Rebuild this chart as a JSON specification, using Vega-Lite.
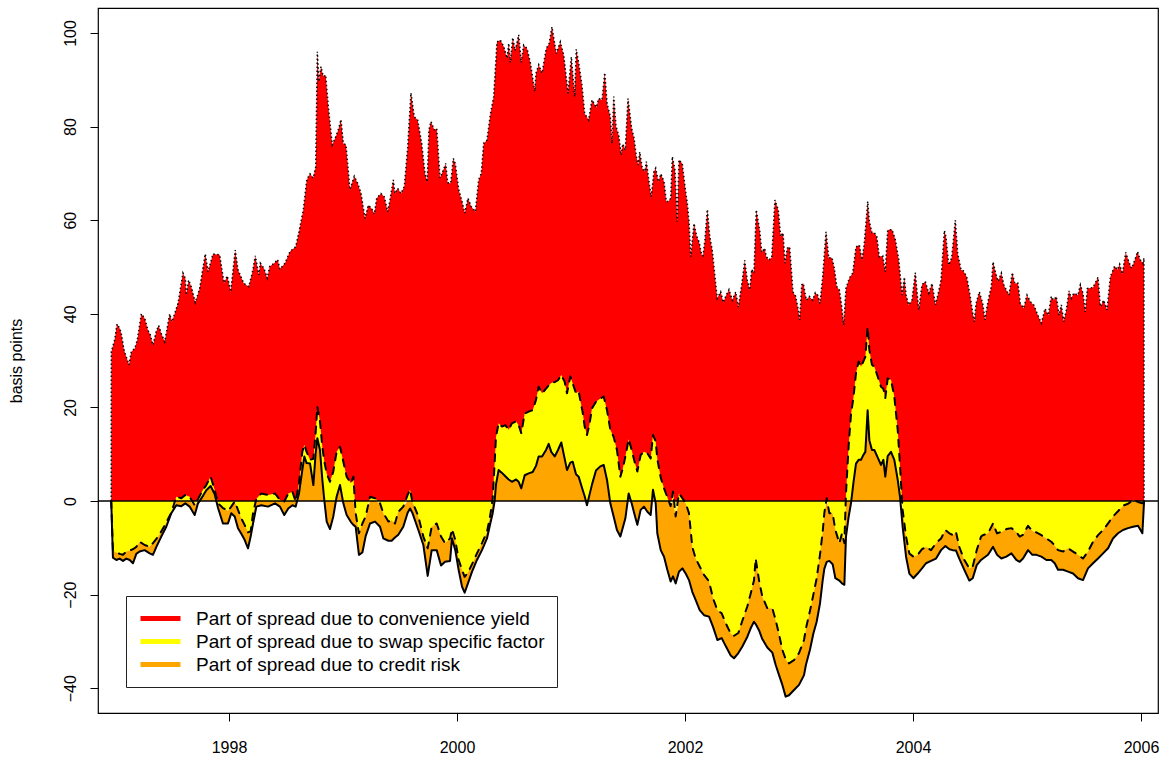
{
"$schema": "https://vega.github.io/schema/vega-lite/v6.json",
"width": 1060, "height": 705,
"autosize": {"type": "none"},
"padding": {"left": 98, "top": 8, "right": 11, "bottom": 52},
"background": "white",
"config": {
 "view": {"stroke": "black", "strokeWidth": 1.2},
 "axis": {"labelFont": "Liberation Sans", "labelFontSize": 16, "labelColor": "black", "titleFont": "Liberation Sans", "titleFontSize": 16, "titleFontWeight": "normal", "titleColor": "black", "domain": false, "grid": false, "tickColor": "black", "tickSize": 8, "labelFlush": false, "labelOverlap": false}
},
"datasets": {
"top": [
{"x":1996.967,"v":0},{"x":1996.968,"v":31.9},{"x":1996.997,"v":34.4},{"x":1997.018,"v":37.8},{"x":1997.041,"v":36.9},{"x":1997.055,"v":35.8},{"x":1997.079,"v":32.3},{"x":1997.099,"v":30.8},{"x":1997.123,"v":29.1},{"x":1997.143,"v":31.9},{"x":1997.173,"v":32.6},{"x":1997.196,"v":34.4},{"x":1997.231,"v":40.0},{"x":1997.261,"v":39.0},{"x":1997.289,"v":36.5},{"x":1997.310,"v":35.5},{"x":1997.333,"v":33.3},{"x":1997.362,"v":36.2},{"x":1997.383,"v":37.5},{"x":1997.406,"v":35.8},{"x":1997.436,"v":34.0},{"x":1997.480,"v":40.0},{"x":1997.500,"v":38.3},{"x":1997.553,"v":42.2},{"x":1997.596,"v":48.7},{"x":1997.617,"v":47.6},{"x":1997.625,"v":44.0},{"x":1997.646,"v":47.2},{"x":1997.669,"v":45.8},{"x":1997.704,"v":42.4},{"x":1997.743,"v":45.4},{"x":1997.792,"v":52.8},{"x":1997.816,"v":49.0},{"x":1997.860,"v":52.8},{"x":1997.918,"v":52.6},{"x":1997.956,"v":46.6},{"x":1997.985,"v":48.1},{"x":1998.015,"v":44.7},{"x":1998.055,"v":53.6},{"x":1998.079,"v":49.4},{"x":1998.129,"v":46.5},{"x":1998.173,"v":45.8},{"x":1998.204,"v":48.7},{"x":1998.231,"v":52.4},{"x":1998.261,"v":48.3},{"x":1998.275,"v":50.8},{"x":1998.307,"v":49.7},{"x":1998.336,"v":47.6},{"x":1998.357,"v":50.1},{"x":1998.401,"v":50.9},
{"x":1998.427,"v":51.6},{"x":1998.447,"v":49.5},{"x":1998.491,"v":50.8},{"x":1998.535,"v":53.3},{"x":1998.585,"v":54.3},{"x":1998.614,"v":57.5},{"x":1998.652,"v":62.2},{"x":1998.682,"v":68.6},{"x":1998.711,"v":69.9},{"x":1998.739,"v":69.0},{"x":1998.761,"v":71.4},{"x":1998.775,"v":96.0},{"x":1998.789,"v":89.6},{"x":1998.807,"v":92.8},{"x":1998.827,"v":90.7},{"x":1998.848,"v":91.0},{"x":1998.871,"v":84.3},{"x":1998.906,"v":76.1},{"x":1998.936,"v":77.8},{"x":1998.959,"v":79.3},{"x":1998.982,"v":81.5},{"x":1999.003,"v":76.4},{"x":1999.026,"v":76.1},{"x":1999.061,"v":66.5},{"x":1999.099,"v":69.4},{"x":1999.129,"v":67.9},{"x":1999.158,"v":65.7},{"x":1999.193,"v":60.4},{"x":1999.222,"v":63.2},{"x":1999.252,"v":62.5},{"x":1999.275,"v":61.3},{"x":1999.296,"v":64.7},{"x":1999.333,"v":65.7},{"x":1999.362,"v":65.0},{"x":1999.392,"v":61.8},{"x":1999.412,"v":64.3},{"x":1999.441,"v":68.6},{"x":1999.456,"v":65.7},{"x":1999.480,"v":66.8},{"x":1999.509,"v":65.7},{"x":1999.538,"v":67.2},{"x":1999.568,"v":75.7},{"x":1999.596,"v":87.2},{"x":1999.625,"v":82.1},{"x":1999.655,"v":81.4},{"x":1999.690,"v":76.4},{"x":1999.719,"v":70.0},{"x":1999.739,"v":68.2},{"x":1999.754,"v":79.3},{"x":1999.772,"v":81.1},{"x":1999.801,"v":79.3},{"x":1999.822,"v":79.6},{"x":1999.851,"v":69.0},{"x":1999.880,"v":70.7},{"x":1999.901,"v":72.1},{"x":1999.918,"v":68.0},{"x":1999.945,"v":67.9},{"x":1999.968,"v":73.2},
{"x":1999.985,"v":72.1},{"x":2000.015,"v":66.5},{"x":2000.044,"v":64.0},{"x":2000.068,"v":61.5},{"x":2000.096,"v":64.7},{"x":2000.125,"v":62.9},{"x":2000.161,"v":61.8},{"x":2000.190,"v":68.6},{"x":2000.213,"v":70.0},{"x":2000.234,"v":76.4},{"x":2000.263,"v":77.1},{"x":2000.292,"v":82.5},{"x":2000.322,"v":86.4},{"x":2000.351,"v":98.1},{"x":2000.380,"v":98.5},{"x":2000.410,"v":97.1},{"x":2000.439,"v":94.6},{"x":2000.454,"v":97.8},{"x":2000.468,"v":93.7},{"x":2000.489,"v":99.0},{"x":2000.511,"v":96.2},{"x":2000.541,"v":99.6},{"x":2000.564,"v":93.7},{"x":2000.585,"v":97.4},{"x":2000.614,"v":96.7},{"x":2000.643,"v":93.7},{"x":2000.682,"v":87.5},{"x":2000.693,"v":91.4},{"x":2000.717,"v":93.2},{"x":2000.746,"v":91.4},{"x":2000.783,"v":96.7},{"x":2000.809,"v":97.8},{"x":2000.833,"v":101.3},{"x":2000.871,"v":95.6},{"x":2000.906,"v":98.1},{"x":2000.936,"v":95.3},{"x":2000.974,"v":87.1},{"x":2001.003,"v":94.9},{"x":2001.032,"v":86.4},{"x":2001.046,"v":96.5},{"x":2001.068,"v":93.5},{"x":2001.096,"v":88.9},{"x":2001.120,"v":82.8},{"x":2001.155,"v":81.4},{"x":2001.184,"v":85.7},{"x":2001.222,"v":84.1},{"x":2001.243,"v":86.0},{"x":2001.272,"v":85.7},{"x":2001.296,"v":91.5},{"x":2001.316,"v":85.0},{"x":2001.345,"v":82.1},{"x":2001.360,"v":76.4},{"x":2001.375,"v":86.4},{"x":2001.395,"v":80.0},{"x":2001.418,"v":78.2},{"x":2001.441,"v":73.9},{"x":2001.454,"v":76.3},{"x":2001.476,"v":75.0},{"x":2001.500,"v":86.0},
{"x":2001.532,"v":79.6},{"x":2001.553,"v":77.5},{"x":2001.573,"v":73.6},{"x":2001.590,"v":71.8},{"x":2001.603,"v":74.6},{"x":2001.625,"v":71.1},{"x":2001.649,"v":70.4},{"x":2001.661,"v":72.5},{"x":2001.690,"v":67.2},{"x":2001.704,"v":65.0},{"x":2001.728,"v":70.4},{"x":2001.743,"v":71.1},{"x":2001.766,"v":68.2},{"x":2001.789,"v":69.9},{"x":2001.816,"v":68.2},{"x":2001.836,"v":64.0},{"x":2001.854,"v":64.0},{"x":2001.875,"v":64.7},{"x":2001.889,"v":73.6},{"x":2001.912,"v":70.7},{"x":2001.932,"v":59.7},{"x":2001.947,"v":72.9},{"x":2001.976,"v":72.1},{"x":2002.000,"v":67.2},{"x":2002.020,"v":63.6},{"x":2002.035,"v":59.7},{"x":2002.050,"v":52.2},{"x":2002.079,"v":59.3},{"x":2002.103,"v":56.5},{"x":2002.123,"v":55.4},{"x":2002.146,"v":52.6},{"x":2002.158,"v":52.4},{"x":2002.175,"v":55.8},{"x":2002.196,"v":62.3},{"x":2002.217,"v":56.5},{"x":2002.239,"v":53.6},{"x":2002.263,"v":47.9},{"x":2002.283,"v":43.3},{"x":2002.313,"v":44.7},{"x":2002.336,"v":42.4},{"x":2002.362,"v":44.0},{"x":2002.386,"v":45.2},{"x":2002.415,"v":42.9},{"x":2002.445,"v":44.7},{"x":2002.468,"v":41.4},{"x":2002.503,"v":47.2},{"x":2002.524,"v":51.4},{"x":2002.546,"v":47.2},{"x":2002.568,"v":45.1},{"x":2002.585,"v":49.5},{"x":2002.605,"v":48.7},{"x":2002.625,"v":62.2},{"x":2002.655,"v":57.9},{"x":2002.673,"v":53.1},{"x":2002.699,"v":54.0},{"x":2002.713,"v":52.2},{"x":2002.737,"v":51.5},{"x":2002.761,"v":52.1},{"x":2002.789,"v":64.3},{"x":2002.818,"v":62.2},{"x":2002.839,"v":56.5},{"x":2002.860,"v":57.3},{"x":2002.877,"v":50.8},{"x":2002.897,"v":54.0},{"x":2002.918,"v":54.3},{"x":2002.947,"v":44.7},{"x":2002.971,"v":43.7},{"x":2002.994,"v":40.8},{"x":2003.006,"v":38.7},{"x":2003.024,"v":46.2},{"x":2003.038,"v":46.5},{"x":2003.064,"v":42.9},
{"x":2003.090,"v":43.7},{"x":2003.120,"v":42.9},{"x":2003.143,"v":44.5},{"x":2003.164,"v":44.0},{"x":2003.184,"v":42.2},{"x":2003.208,"v":47.9},{"x":2003.237,"v":57.5},{"x":2003.261,"v":51.9},{"x":2003.289,"v":52.0},{"x":2003.310,"v":49.7},{"x":2003.331,"v":45.8},{"x":2003.354,"v":45.1},{"x":2003.375,"v":41.5},{"x":2003.392,"v":37.6},{"x":2003.412,"v":45.4},{"x":2003.441,"v":47.6},{"x":2003.471,"v":48.7},{"x":2003.500,"v":54.3},{"x":2003.529,"v":54.7},{"x":2003.553,"v":51.5},{"x":2003.573,"v":55.1},{"x":2003.603,"v":64.0},{"x":2003.617,"v":59.7},{"x":2003.640,"v":57.3},{"x":2003.661,"v":57.3},{"x":2003.682,"v":56.5},{"x":2003.704,"v":52.2},{"x":2003.734,"v":52.4},{"x":2003.757,"v":49.0},{"x":2003.778,"v":57.9},{"x":2003.816,"v":58.0},{"x":2003.845,"v":55.8},{"x":2003.875,"v":51.5},{"x":2003.904,"v":44.0},{"x":2003.924,"v":47.8},{"x":2003.939,"v":44.0},{"x":2003.962,"v":41.9},{"x":2003.991,"v":42.9},{"x":2004.020,"v":48.8},{"x":2004.050,"v":40.8},{"x":2004.079,"v":46.2},{"x":2004.108,"v":46.9},{"x":2004.138,"v":44.4},{"x":2004.167,"v":46.5},{"x":2004.196,"v":41.9},{"x":2004.225,"v":44.7},{"x":2004.246,"v":47.2},{"x":2004.275,"v":57.8},{"x":2004.289,"v":56.5},{"x":2004.313,"v":50.4},{"x":2004.339,"v":51.9},{"x":2004.371,"v":60.0},{"x":2004.392,"v":52.9},{"x":2004.421,"v":49.4},{"x":2004.441,"v":49.2},{"x":2004.471,"v":47.9},{"x":2004.500,"v":44.0},{"x":2004.524,"v":40.1},{"x":2004.538,"v":38.3},{"x":2004.553,"v":42.2},{"x":2004.582,"v":44.7},{"x":2004.611,"v":42.2},{"x":2004.632,"v":38.7},
{"x":2004.649,"v":41.5},{"x":2004.667,"v":43.7},{"x":2004.687,"v":45.8},{"x":2004.702,"v":51.1},{"x":2004.725,"v":48.7},{"x":2004.746,"v":46.9},{"x":2004.775,"v":48.7},{"x":2004.796,"v":46.2},{"x":2004.818,"v":45.1},{"x":2004.842,"v":44.0},{"x":2004.871,"v":48.8},{"x":2004.892,"v":46.5},{"x":2004.921,"v":46.5},{"x":2004.941,"v":42.2},{"x":2004.971,"v":41.2},{"x":2005.000,"v":44.0},{"x":2005.029,"v":42.6},{"x":2005.059,"v":41.9},{"x":2005.088,"v":40.1},{"x":2005.126,"v":38.0},{"x":2005.158,"v":41.1},{"x":2005.187,"v":39.7},{"x":2005.213,"v":43.7},{"x":2005.234,"v":42.9},{"x":2005.257,"v":43.7},{"x":2005.281,"v":39.7},{"x":2005.301,"v":41.9},{"x":2005.322,"v":38.3},{"x":2005.345,"v":40.8},{"x":2005.368,"v":44.9},{"x":2005.389,"v":43.3},{"x":2005.410,"v":44.4},{"x":2005.447,"v":44.0},{"x":2005.468,"v":46.2},{"x":2005.491,"v":44.4},{"x":2005.511,"v":40.4},{"x":2005.529,"v":45.4},{"x":2005.579,"v":45.6},{"x":2005.623,"v":47.8},{"x":2005.643,"v":41.5},{"x":2005.673,"v":42.9},{"x":2005.702,"v":40.8},{"x":2005.731,"v":47.9},{"x":2005.769,"v":50.2},{"x":2005.792,"v":49.4},{"x":2005.813,"v":50.6},{"x":2005.836,"v":48.5},{"x":2005.866,"v":53.1},{"x":2005.895,"v":51.0},{"x":2005.918,"v":49.7},{"x":2005.947,"v":51.6},{"x":2005.970,"v":53.3},{"x":2005.991,"v":51.6},{"x":2006.015,"v":50.8},{"x":2006.026,"v":51.9},{"x":2006.027,"v":0}
],
"low": [
{"x":1996.967,"s":0,"d":0,"b":0},{"x":1996.982,"s":-12.1,"d":-10.5,"b":-10.5},{"x":1997.012,"s":-12.6,"d":-11.0,"b":-11.0},{"x":1997.041,"s":-12.3,"d":-11.3,"b":-11.3},{"x":1997.070,"s":-12.8,"d":-11.5,"b":-11.5},{"x":1997.099,"s":-12.3,"d":-10.8,"b":-10.8},{"x":1997.129,"s":-12.6,"d":-10.6,"b":-10.6},{"x":1997.158,"s":-13.3,"d":-10.3,"b":-10.3},{"x":1997.187,"s":-11.3,"d":-9.8,"b":-9.8},{"x":1997.216,"s":-10.8,"d":-8.7,"b":-8.7},{"x":1997.260,"s":-10.5,"d":-9.4,"b":-9.4},{"x":1997.304,"s":-11.2,"d":-9.8,"b":-9.8},{"x":1997.333,"s":-11.5,"d":-9.0,"b":-9.0},{"x":1997.363,"s":-9.8,"d":-8.1,"b":-8.1},{"x":1997.406,"s":-7.6,"d":-6.5,"b":-6.5},{"x":1997.450,"s":-5.5,"d":-4.6,"b":-4.6},{"x":1997.494,"s":-2.6,"d":-2.5,"b":-2.5},{"x":1997.538,"s":-0.9,"d":0.9,"b":0},{"x":1997.582,"s":-1.1,"d":0.6,"b":0},{"x":1997.617,"s":-0.5,"d":1.3,"b":0},{"x":1997.655,"s":-1.2,"d":0.9,"b":0},{"x":1997.699,"s":-3.0,"d":-0.9,"b":-0.9},{"x":1997.728,"s":-0.5,"d":0.4,"b":0},{"x":1997.772,"s":1.1,"d":2.4,"b":0},{"x":1997.801,"s":2.3,"d":3.4,"b":0},{"x":1997.839,"s":3.2,"d":5.2,"b":0},{"x":1997.874,"s":1.5,"d":2.4,"b":0},{"x":1997.904,"s":-1.5,"d":-0.5,"b":-0.5},{"x":1997.947,"s":-4.8,"d":-1.5,"b":-1.5},{"x":1997.991,"s":-4.8,"d":-2.1,"b":-2.1},{"x":1998.020,"s":-2.6,"d":-1.2,"b":-1.2},{"x":1998.050,"s":-3.3,"d":-0.1,"b":-0.1},{"x":1998.079,"s":-5.8,"d":-1.9,"b":-1.9},{"x":1998.108,"s":-7.0,"d":-3.7,"b":-3.7},{"x":1998.137,"s":-8.3,"d":-5.1,"b":-5.1},{"x":1998.167,"s":-10.1,"d":-6.7,"b":-6.7},{"x":1998.190,"s":-7.6,"d":-6.5,"b":-6.5},{"x":1998.211,"s":-4.8,"d":-2.6,"b":-2.6},{"x":1998.240,"s":-1.2,"d":0.5,"b":0},{"x":1998.284,"s":-0.9,"d":1.6,"b":0},{"x":1998.342,"s":-1.2,"d":1.3,"b":0},
{"x":1998.404,"s":-0.5,"d":1.6,"b":0},{"x":1998.447,"s":-1.2,"d":0.2,"b":0},{"x":1998.485,"s":-3.0,"d":-0.1,"b":-0.1},{"x":1998.520,"s":-1.6,"d":1.6,"b":0},{"x":1998.556,"s":-0.9,"d":2.0,"b":0},{"x":1998.585,"s":-1.2,"d":-0.1,"b":-0.1},{"x":1998.614,"s":1.6,"d":3.8,"b":0},{"x":1998.643,"s":6.6,"d":10.5,"b":0},{"x":1998.661,"s":9.5,"d":12.0,"b":0},{"x":1998.681,"s":8.1,"d":10.5,"b":0},{"x":1998.711,"s":8.0,"d":8.8,"b":0},{"x":1998.740,"s":3.4,"d":9.0,"b":0},{"x":1998.760,"s":10.2,"d":14.5,"b":0},{"x":1998.775,"s":13.4,"d":20.2,"b":0},{"x":1998.798,"s":10.9,"d":17.0,"b":0},{"x":1998.819,"s":4.5,"d":11.5,"b":0},{"x":1998.836,"s":0.2,"d":8.5,"b":0},{"x":1998.857,"s":-4.4,"d":5.9,"b":0},{"x":1998.886,"s":-6.0,"d":4.1,"b":0},{"x":1998.915,"s":-3.3,"d":6.3,"b":0},{"x":1998.944,"s":0.9,"d":10.5,"b":0},{"x":1998.974,"s":3.4,"d":11.6,"b":0},{"x":1999.003,"s":-0.5,"d":8.4,"b":0},{"x":1999.032,"s":-3.0,"d":5.2,"b":0},{"x":1999.070,"s":-4.5,"d":3.8,"b":0},{"x":1999.091,"s":-5.1,"d":5.2,"b":0},{"x":1999.111,"s":-5.5,"d":-2.6,"b":-2.6},{"x":1999.140,"s":-11.5,"d":-6.9,"b":-6.9},{"x":1999.170,"s":-11.0,"d":-4.8,"b":-4.8},{"x":1999.199,"s":-7.5,"d":-3.3,"b":-3.3},{"x":1999.237,"s":-4.8,"d":0.9,"b":0},{"x":1999.281,"s":-4.4,"d":0.6,"b":0},{"x":1999.325,"s":-5.5,"d":-0.5,"b":-0.5},{"x":1999.354,"s":-8.0,"d":-2.6,"b":-2.6},{"x":1999.398,"s":-8.5,"d":-4.4,"b":-4.4},{"x":1999.427,"s":-8.5,"d":-4.1,"b":-4.1},{"x":1999.456,"s":-7.8,"d":-4.8,"b":-4.8},{"x":1999.485,"s":-7.2,"d":-2.3,"b":-2.3},{"x":1999.529,"s":-5.5,"d":-1.2,"b":-1.2},{"x":1999.567,"s":-2.5,"d":1.3,"b":0},{"x":1999.588,"s":-1.6,"d":2.4,"b":0},{"x":1999.608,"s":-2.5,"d":-0.1,"b":-0.1},{"x":1999.661,"s":-6.2,"d":-3.3,"b":-3.3},{"x":1999.705,"s":-9.4,"d":-7.6,"b":-7.6},{"x":1999.743,"s":-16.0,"d":-10.1,"b":-10.1},{"x":1999.778,"s":-10.5,"d":-5.5,"b":-5.5},{"x":1999.822,"s":-10.5,"d":-4.8,"b":-4.8},{"x":1999.860,"s":-13.8,"d":-7.6,"b":-7.6},{"x":1999.895,"s":-13.0,"d":-9.0,"b":-9.0},{"x":1999.939,"s":-12.8,"d":-8.0,"b":-8.0},
{"x":1999.956,"s":-8.0,"d":-6.0,"b":-6.0},{"x":1999.985,"s":-10.5,"d":-8.3,"b":-8.3},{"x":2000.015,"s":-14.8,"d":-12.6,"b":-12.6},{"x":2000.044,"s":-18.3,"d":-14.7,"b":-14.7},{"x":2000.067,"s":-19.6,"d":-16.2,"b":-16.2},{"x":2000.096,"s":-17.6,"d":-15.3,"b":-15.3},{"x":2000.132,"s":-15.1,"d":-13.5,"b":-13.5},{"x":2000.175,"s":-12.6,"d":-11.2,"b":-11.2},{"x":2000.219,"s":-10.5,"d":-9.0,"b":-9.0},{"x":2000.263,"s":-8.0,"d":-6.6,"b":-6.6},{"x":2000.292,"s":-4.8,"d":-3.0,"b":-3.0},{"x":2000.313,"s":-2.6,"d":0.5,"b":0},{"x":2000.330,"s":0.0,"d":8.0,"b":0},{"x":2000.342,"s":3.5,"d":13.7,"b":0},{"x":2000.365,"s":6.6,"d":16.6,"b":0},{"x":2000.395,"s":6.0,"d":15.9,"b":0},{"x":2000.424,"s":5.3,"d":16.2,"b":0},{"x":2000.453,"s":4.6,"d":15.2,"b":0},{"x":2000.482,"s":4.1,"d":16.6,"b":0},{"x":2000.518,"s":4.6,"d":17.0,"b":0},{"x":2000.541,"s":4.1,"d":16.2,"b":0},{"x":2000.564,"s":2.7,"d":14.5,"b":0},{"x":2000.594,"s":5.5,"d":18.7,"b":0},{"x":2000.629,"s":5.9,"d":19.1,"b":0},{"x":2000.664,"s":6.2,"d":19.4,"b":0},{"x":2000.693,"s":7.5,"d":21.6,"b":0},{"x":2000.716,"s":9.5,"d":24.4,"b":0},{"x":2000.746,"s":9.5,"d":23.0,"b":0},{"x":2000.781,"s":10.9,"d":24.0,"b":0},{"x":2000.804,"s":12.2,"d":24.7,"b":0},{"x":2000.827,"s":10.5,"d":25.2,"b":0},{"x":2000.857,"s":9.5,"d":25.4,"b":0},{"x":2000.886,"s":10.9,"d":25.8,"b":0},{"x":2000.915,"s":12.5,"d":26.9,"b":0},{"x":2000.944,"s":9.1,"d":25.5,"b":0},{"x":2000.965,"s":6.6,"d":23.0,"b":0},{"x":2000.994,"s":8.2,"d":26.6,"b":0},{"x":2001.015,"s":8.4,"d":25.1,"b":0},{"x":2001.044,"s":5.7,"d":23.0,"b":0},{"x":2001.067,"s":5.2,"d":23.4,"b":0},{"x":2001.102,"s":2.4,"d":19.0,"b":0},{"x":2001.120,"s":1.0,"d":15.9,"b":0},{"x":2001.140,"s":-0.9,"d":14.1,"b":0},{"x":2001.161,"s":1.2,"d":16.2,"b":0},{"x":2001.184,"s":3.5,"d":19.8,"b":0},{"x":2001.219,"s":6.5,"d":21.2,"b":0},{"x":2001.257,"s":7.4,"d":21.9,"b":0},{"x":2001.287,"s":7.7,"d":22.3,"b":0},{"x":2001.316,"s":4.5,"d":19.4,"b":0},{"x":2001.345,"s":-0.5,"d":15.2,"b":0},{"x":2001.374,"s":-3.3,"d":13.7,"b":0},{"x":2001.403,"s":-6.2,"d":10.9,"b":0},{"x":2001.433,"s":-7.6,"d":5.2,"b":0},{"x":2001.453,"s":-5.8,"d":6.8,"b":0},{"x":2001.477,"s":-3.7,"d":9.5,"b":0},{"x":2001.506,"s":1.6,"d":13.2,"b":0},
{"x":2001.532,"s":-0.5,"d":10.9,"b":0},{"x":2001.562,"s":-3.3,"d":8.0,"b":0},{"x":2001.582,"s":-5.1,"d":6.3,"b":0},{"x":2001.611,"s":-1.9,"d":9.8,"b":0},{"x":2001.640,"s":-1.2,"d":10.5,"b":0},{"x":2001.670,"s":-2.3,"d":10.2,"b":0},{"x":2001.699,"s":-3.0,"d":9.1,"b":0},{"x":2001.719,"s":2.4,"d":14.1,"b":0},{"x":2001.743,"s":-0.5,"d":12.7,"b":0},{"x":2001.757,"s":-6.9,"d":9.0,"b":0},{"x":2001.787,"s":-10.5,"d":5.0,"b":0},{"x":2001.816,"s":-11.9,"d":2.7,"b":0},{"x":2001.845,"s":-14.7,"d":0.8,"b":0},{"x":2001.874,"s":-17.2,"d":-1.1,"b":-1.1},{"x":2001.895,"s":-16.1,"d":2.0,"b":0},{"x":2001.918,"s":-17.6,"d":-3.3,"b":-3.3},{"x":2001.947,"s":-15.1,"d":1.6,"b":0},{"x":2001.977,"s":-14.4,"d":0.6,"b":0},{"x":2002.006,"s":-15.5,"d":-0.5,"b":-0.5},{"x":2002.035,"s":-16.9,"d":-2.6,"b":-2.6},{"x":2002.064,"s":-19.4,"d":-9.8,"b":-9.8},{"x":2002.094,"s":-21.2,"d":-12.3,"b":-12.3},{"x":2002.129,"s":-23.3,"d":-14.0,"b":-14.0},{"x":2002.167,"s":-24.4,"d":-15.8,"b":-15.8},{"x":2002.211,"s":-24.7,"d":-17.2,"b":-17.2},{"x":2002.246,"s":-26.9,"d":-20.8,"b":-20.8},{"x":2002.284,"s":-29.7,"d":-23.3,"b":-23.3},{"x":2002.322,"s":-29.3,"d":-24.0,"b":-24.0},{"x":2002.357,"s":-31.0,"d":-26.1,"b":-26.1},{"x":2002.401,"s":-33.0,"d":-28.3,"b":-28.3},{"x":2002.430,"s":-33.6,"d":-28.8,"b":-28.8},{"x":2002.468,"s":-32.5,"d":-28.2,"b":-28.2},{"x":2002.503,"s":-31.1,"d":-25.6,"b":-25.6},{"x":2002.547,"s":-29.0,"d":-22.5,"b":-22.5},{"x":2002.576,"s":-27.2,"d":-19.8,"b":-19.8},{"x":2002.605,"s":-25.8,"d":-17.0,"b":-17.0},{"x":2002.620,"s":-26.3,"d":-12.3,"b":-12.3},{"x":2002.649,"s":-27.6,"d":-16.9,"b":-16.9},{"x":2002.678,"s":-29.5,"d":-20.4,"b":-20.4},{"x":2002.722,"s":-31.3,"d":-22.9,"b":-22.9},{"x":2002.766,"s":-32.4,"d":-22.9,"b":-22.9},{"x":2002.795,"s":-35.0,"d":-25.4,"b":-25.4},{"x":2002.825,"s":-37.2,"d":-28.5,"b":-28.5},{"x":2002.854,"s":-39.3,"d":-31.8,"b":-31.8},{"x":2002.883,"s":-41.8,"d":-33.8,"b":-33.8},{"x":2002.912,"s":-41.5,"d":-34.7,"b":-34.7},{"x":2002.956,"s":-40.4,"d":-34.0,"b":-34.0},{"x":2003.000,"s":-39.3,"d":-32.5,"b":-32.5},{"x":2003.044,"s":-37.2,"d":-29.7,"b":-29.7},
{"x":2003.061,"s":-35.0,"d":-27.2,"b":-27.2},{"x":2003.096,"s":-31.8,"d":-23.5,"b":-23.5},{"x":2003.126,"s":-28.3,"d":-20.0,"b":-20.0},{"x":2003.155,"s":-25.8,"d":-16.5,"b":-16.5},{"x":2003.184,"s":-21.9,"d":-11.5,"b":-11.5},{"x":2003.208,"s":-16.9,"d":-6.5,"b":-6.5},{"x":2003.222,"s":-14.5,"d":-2.6,"b":-2.6},{"x":2003.243,"s":-13.0,"d":0.6,"b":0},{"x":2003.266,"s":-12.8,"d":-2.6,"b":-2.6},{"x":2003.295,"s":-13.5,"d":-2.6,"b":-2.6},{"x":2003.319,"s":-16.5,"d":-6.2,"b":-6.2},{"x":2003.354,"s":-17.0,"d":-9.0,"b":-9.0},{"x":2003.377,"s":-17.6,"d":-6.9,"b":-6.9},{"x":2003.398,"s":-17.9,"d":-9.0,"b":-9.0},{"x":2003.412,"s":-7.6,"d":1.6,"b":0},{"x":2003.436,"s":-3.3,"d":12.0,"b":0},{"x":2003.456,"s":-0.5,"d":18.5,"b":0},{"x":2003.477,"s":3.8,"d":22.0,"b":0},{"x":2003.500,"s":8.0,"d":27.3,"b":0},{"x":2003.523,"s":8.8,"d":29.8,"b":0},{"x":2003.544,"s":8.8,"d":28.7,"b":0},{"x":2003.564,"s":9.8,"d":29.8,"b":0},{"x":2003.582,"s":10.5,"d":30.8,"b":0},{"x":2003.602,"s":19.4,"d":37.2,"b":0},{"x":2003.617,"s":13.0,"d":32.3,"b":0},{"x":2003.640,"s":10.9,"d":29.1,"b":0},{"x":2003.661,"s":10.9,"d":28.7,"b":0},{"x":2003.690,"s":9.3,"d":26.6,"b":0},{"x":2003.719,"s":7.7,"d":24.4,"b":0},{"x":2003.740,"s":8.8,"d":24.0,"b":0},{"x":2003.757,"s":5.2,"d":22.0,"b":0},{"x":2003.778,"s":9.6,"d":26.2,"b":0},{"x":2003.807,"s":10.5,"d":25.9,"b":0},{"x":2003.836,"s":8.8,"d":22.3,"b":0},{"x":2003.866,"s":4.5,"d":15.2,"b":0},{"x":2003.886,"s":0.9,"d":7.5,"b":0},{"x":2003.909,"s":-5.5,"d":-1.9,"b":-1.9},{"x":2003.939,"s":-11.9,"d":-7.6,"b":-7.6},{"x":2003.968,"s":-15.5,"d":-11.2,"b":-11.2},{"x":2004.003,"s":-16.5,"d":-11.9,"b":-11.9},{"x":2004.041,"s":-15.5,"d":-11.5,"b":-11.5},{"x":2004.079,"s":-14.4,"d":-10.3,"b":-10.3},{"x":2004.114,"s":-13.3,"d":-9.8,"b":-9.8},{"x":2004.158,"s":-12.8,"d":-10.5,"b":-10.5},{"x":2004.202,"s":-12.3,"d":-9.0,"b":-9.0},{"x":2004.246,"s":-10.5,"d":-8.0,"b":-8.0},{"x":2004.284,"s":-9.6,"d":-6.2,"b":-6.2},{"x":2004.319,"s":-10.3,"d":-6.9,"b":-6.9},{"x":2004.348,"s":-10.5,"d":-7.3,"b":-7.3},{"x":2004.377,"s":-10.6,"d":-6.6,"b":-6.6},{"x":2004.406,"s":-12.3,"d":-9.8,"b":-9.8},{"x":2004.450,"s":-14.7,"d":-12.6,"b":-12.6},{"x":2004.494,"s":-17.0,"d":-14.4,"b":-14.4},{"x":2004.524,"s":-16.5,"d":-14.0,"b":-14.0},{"x":2004.559,"s":-13.7,"d":-10.5,"b":-10.5},{"x":2004.597,"s":-12.6,"d":-7.6,"b":-7.6},
{"x":2004.614,"s":-12.3,"d":-7.3,"b":-7.3},{"x":2004.658,"s":-11.5,"d":-6.9,"b":-6.9},{"x":2004.702,"s":-9.8,"d":-4.8,"b":-4.8},{"x":2004.737,"s":-11.5,"d":-6.9,"b":-6.9},{"x":2004.775,"s":-12.3,"d":-6.6,"b":-6.6},{"x":2004.819,"s":-11.9,"d":-6.0,"b":-6.0},{"x":2004.863,"s":-11.2,"d":-5.8,"b":-5.8},{"x":2004.906,"s":-12.6,"d":-6.6,"b":-6.6},{"x":2004.936,"s":-13.0,"d":-7.6,"b":-7.6},{"x":2004.965,"s":-12.3,"d":-7.2,"b":-7.2},{"x":2005.009,"s":-10.5,"d":-5.3,"b":-5.3},{"x":2005.047,"s":-11.5,"d":-6.4,"b":-6.4},{"x":2005.082,"s":-11.5,"d":-6.7,"b":-6.7},{"x":2005.126,"s":-11.9,"d":-7.3,"b":-7.3},{"x":2005.170,"s":-12.6,"d":-8.0,"b":-8.0},{"x":2005.213,"s":-12.6,"d":-8.7,"b":-8.7},{"x":2005.243,"s":-13.3,"d":-9.5,"b":-9.5},{"x":2005.272,"s":-14.7,"d":-10.5,"b":-10.5},{"x":2005.316,"s":-14.7,"d":-10.8,"b":-10.8},{"x":2005.360,"s":-15.1,"d":-10.1,"b":-10.1},{"x":2005.404,"s":-15.5,"d":-10.8,"b":-10.8},{"x":2005.447,"s":-16.5,"d":-11.5,"b":-11.5},{"x":2005.491,"s":-16.9,"d":-12.3,"b":-12.3},{"x":2005.535,"s":-14.4,"d":-10.8,"b":-10.8},{"x":2005.579,"s":-13.3,"d":-8.7,"b":-8.7},{"x":2005.623,"s":-12.3,"d":-7.3,"b":-7.3},{"x":2005.667,"s":-11.2,"d":-6.2,"b":-6.2},{"x":2005.711,"s":-10.1,"d":-4.8,"b":-4.8},{"x":2005.754,"s":-8.0,"d":-3.3,"b":-3.3},{"x":2005.798,"s":-6.9,"d":-2.2,"b":-2.2},{"x":2005.842,"s":-6.2,"d":-1.0,"b":-1.0},{"x":2005.886,"s":-5.8,"d":-0.6,"b":-0.6},{"x":2005.930,"s":-5.5,"d":0.2,"b":0},{"x":2005.974,"s":-5.3,"d":-0.2,"b":-0.2},{"x":2006.012,"s":-6.9,"d":-0.5,"b":-0.5},{"x":2006.027,"s":0,"d":0,"b":0}
],
"leg": [
{"k":"Part of spread due to convenience yield","x":1997.5,"v":-44},
{"k":"Part of spread due to swap specific factor","x":1997.5,"v":-44},
{"k":"Part of spread due to credit risk","x":1997.5,"v":-44}
],
"zero": [{"v":0}]
},
"layer": [
{"data": {"name": "top"}, "mark": {"type": "area", "color": "#ff0000", "orient": "vertical"},
 "encoding": {
  "x": {"field": "x", "type": "quantitative", "title": null, "scale": {"domain": [1996.851, 2006.149], "nice": false, "zero": false},
        "axis": {"values": [1998, 2000, 2002, 2004, 2006], "format": "d", "labelPadding": 18}},
  "y": {"field": "v", "type": "quantitative", "title": "basis points", "scale": {"domain": [-45.3, 105.34], "nice": false, "zero": false},
        "axis": {"values": [-40, -20, 0, 20, 40, 60, 80, 100], "labelAngle": 270, "labelAlign": "center", "labelBaseline": "bottom", "labelPadding": 12, "title": "basis points", "titleAngle": 270, "titlePadding": 38}},
  "y2": {"datum": 0}}},
{"data": {"name": "low"}, "mark": {"type": "area", "color": "#ffff00", "orient": "vertical"},
 "encoding": {
  "x": {"field": "x", "type": "quantitative", "title": null},
  "y": {"field": "d", "type": "quantitative", "title": "basis points"},
  "y2": {"datum": 0}}},
{"data": {"name": "low"}, "mark": {"type": "area", "color": "#ffa500", "orient": "vertical"},
 "encoding": {
  "x": {"field": "x", "type": "quantitative", "title": null},
  "y": {"field": "s", "type": "quantitative", "title": "basis points"},
  "y2": {"field": "b"}}},
{"data": {"name": "top"}, "mark": {"type": "line", "color": "black", "strokeWidth": 1.5, "strokeDash": [1.5, 2.5]},
 "encoding": {
  "x": {"field": "x", "type": "quantitative", "title": null},
  "y": {"field": "v", "type": "quantitative", "title": "basis points"}}},
{"data": {"name": "zero"}, "mark": {"type": "rule", "color": "black", "strokeWidth": 1.5},
 "encoding": {"y": {"field": "v", "type": "quantitative", "title": "basis points"}}},
{"data": {"name": "low"}, "mark": {"type": "line", "color": "black", "strokeWidth": 2, "strokeDash": [7, 7], "strokeCap": "round", "strokeJoin": "round"},
 "encoding": {
  "x": {"field": "x", "type": "quantitative", "title": null},
  "y": {"field": "d", "type": "quantitative", "title": "basis points"}}},
{"data": {"name": "low"}, "mark": {"type": "line", "color": "black", "strokeWidth": 2, "strokeJoin": "round"},
 "encoding": {
  "x": {"field": "x", "type": "quantitative", "title": null},
  "y": {"field": "s", "type": "quantitative", "title": "basis points"}}},
{"data": {"name": "leg"}, "mark": {"type": "line", "strokeWidth": 5},
 "encoding": {
  "x": {"field": "x", "type": "quantitative", "title": null},
  "y": {"field": "v", "type": "quantitative", "title": "basis points"},
  "color": {"field": "k", "type": "nominal",
   "scale": {"domain": ["Part of spread due to convenience yield", "Part of spread due to swap specific factor", "Part of spread due to credit risk"], "range": ["#ff0000", "#ffff00", "#ffa500"]},
   "legend": {"orient": "none", "legendX": 28, "legendY": 588, "title": null, "symbolType": "M-1,0H4", "symbolSize": 256, "symbolStrokeWidth": 5, "labelFont": "Liberation Sans", "labelFontSize": 19, "labelColor": "black", "labelLimit": 800, "labelOffset": 37, "rowPadding": 2, "padding": 12, "strokeColor": "#222", "fillColor": "white"}}}}
]
}
